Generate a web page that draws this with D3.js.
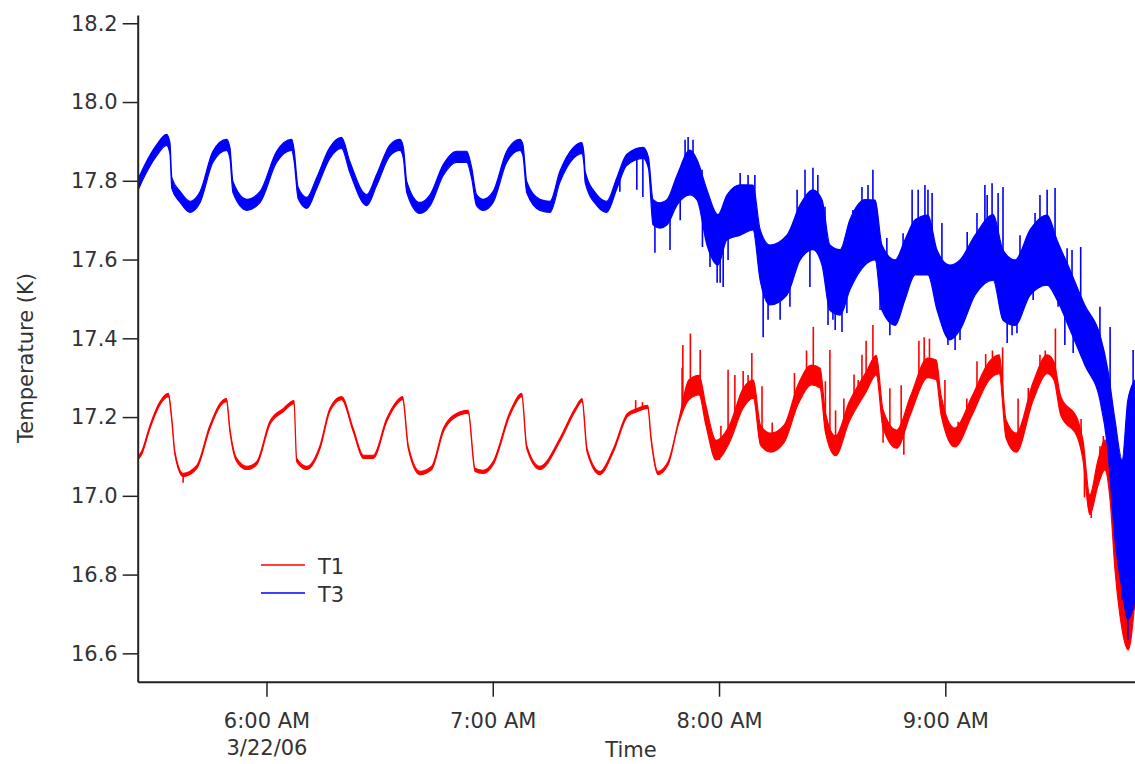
<!DOCTYPE html>
<html>
<head>
<meta charset="utf-8">
<script src="https://cdn.jsdelivr.net/npm/d3@7"></script>
<style>
  html, body { margin: 0; padding: 0; background: #fff; }
  svg { display: block; }
  text { font-family: "DejaVu Sans", Verdana, sans-serif; fill: #333; }
</style>
</head>
<body>
<svg id="chart" width="1135" height="764"></svg>
<script>
// ---- data: time in minutes after 5:00 AM, 3/22/06; temperature in K ----
const yTicks = [16.6, 16.8, 17.0, 17.2, 17.4, 17.6, 17.8, 18.0, 18.2];
const xTickMinutes = [60, 120, 180, 240];
const seriesNames = ["T1", "T3"];

// T3: middle of the recorded noise band, and half-width of the band
const t3Time = [25.9,27.8,30.9,33.5,34.4,34.9,37.1,39.7,42.4,45.8,49.4,50.3,51.1,54.8,58.3,62.7,66.7,67.3,68.4,70.7,73.3,76.8,79.9,82.1,86.6,89.2,92.8,95.4,96.3,97.2,100.7,103.4,106.9,110.4,113.1,114.4,115.7,117.5,120.1,123.7,127.2,128.0,129.0,132.5,135.2,137.8,141.4,143.6,144.2,144.5,147.6,150.2,152.9,155.5,159.9,161.3,
  162.5,164.4,166.2,168.9,172.3,174.2,176.8,179.7,182.1,185.6,189.0,190.9,193.5,198.0,201.5,204.9,207.3,209.4,212.1,214.7,218.7,221.4,223.2,226.7,229.3,232.0,235.4,237.8,241.2,243.9,247.9,252.7,255.3,258.5,262.5,267.0,269.6,273.1,277.0,281.0,283.1,285.0,286.9,288.4,290.3];
const t3Mid = [17.789,17.828,17.878,17.904,17.883,17.794,17.759,17.734,17.759,17.861,17.891,17.871,17.784,17.739,17.759,17.861,17.891,17.866,17.769,17.744,17.794,17.871,17.896,17.835,17.751,17.802,17.878,17.891,17.871,17.784,17.731,17.751,17.828,17.861,17.861,17.820,17.751,17.739,17.759,17.861,17.891,17.878,17.784,17.739,17.734,17.810,17.871,17.883,17.853,17.810,17.751,17.734,17.794,17.853,17.871,17.845,
  17.720,17.712,17.720,17.777,17.821,17.802,17.707,17.650,17.707,17.726,17.732,17.612,17.561,17.586,17.669,17.701,17.669,17.554,17.542,17.612,17.669,17.675,17.554,17.516,17.574,17.631,17.637,17.548,17.491,17.510,17.586,17.631,17.535,17.516,17.593,17.624,17.574,17.497,17.408,17.326,17.218,17.040,16.926,16.964,17.015];
const t3Spread = [0.014,0.014,0.014,0.014,0.014,0.014,0.014,0.014,0.014,0.014,0.014,0.014,0.014,0.014,0.014,0.014,0.014,0.014,0.014,0.014,0.014,0.014,0.014,0.014,0.014,0.014,0.014,0.014,0.014,0.014,0.014,0.014,0.014,0.014,0.014,0.014,0.014,0.014,0.014,0.014,0.014,0.014,0.014,0.014,0.014,0.014,0.014,0.014,0.014,0.014,0.014,0.014,0.014,0.014,0.014,0.014,
  0.032,0.032,0.032,0.038,0.057,0.051,0.070,0.064,0.057,0.064,0.057,0.064,0.076,0.076,0.070,0.076,0.083,0.083,0.083,0.089,0.083,0.076,0.083,0.083,0.076,0.070,0.076,0.076,0.095,0.089,0.076,0.083,0.089,0.083,0.083,0.089,0.076,0.076,0.076,0.083,0.102,0.152,0.165,0.279,0.279];
// T3: isolated noise spikes (time, tip value)
const t3SpikeTime = [153.7,158.2,159.8,163.0,167.0,169.7,171.0,171.8,173.1,175.5,175.6,177.6,179.5,180.3,181.1,182.4,183.7,185.6,187.7,189.5,191.7,193.0,196.2,198.8,200.7,202.8,204.1,204.9,206.2,208.1,208.9,210.2,210.8,212.6,213.9,215.5,217.9,219.5,220.8,222.7,224.5,225.3,227.2,228.8,231.2,232.8,234.6,235.4,236.5,239.1,239.9,240.7,242.6,243.9,245.8,248.4,250.5,251.1,252.4,254.0,255.3,256.4,257.7,259.0,259.8,263.3,263.8,265.1,267.0,269.1,269.9,271.7,272.3,273.6,273.9,275.7,275.9,277.0,277.6,279.7,281.0,283.7,286.9,288.4,289.8,289.9];
const t3SpikeTip = [17.772,17.777,17.759,17.617,17.624,17.700,17.904,17.911,17.904,17.828,17.632,17.581,17.541,17.541,17.530,17.599,17.777,17.820,17.815,17.815,17.403,17.447,17.447,17.480,17.777,17.828,17.530,17.833,17.815,17.734,17.434,17.447,17.421,17.416,17.464,17.726,17.784,17.789,17.828,17.472,17.655,17.408,17.439,17.667,17.777,17.777,17.789,17.777,17.769,17.693,17.413,17.383,17.370,17.396,17.670,17.718,17.789,17.764,17.794,17.769,17.784,17.388,17.408,17.413,17.662,17.497,17.718,17.764,17.777,17.782,17.480,17.383,17.629,17.624,17.363,17.370,17.632,17.353,17.345,17.294,17.480,17.429,16.735,16.634,17.370,16.710];

// T1
const t1Time = [25.9,26.9,29.1,31.8,34.0,34.9,35.7,37.9,41.5,45.0,47.7,49.4,50.3,52.1,54.8,57.4,60.9,64.5,67.3,68.0,70.7,74.2,76.8,79.9,83.0,85.7,88.3,91.9,94.5,96.1,97.6,100.7,103.8,106.9,109.5,113.5,115.3,117.5,120.1,124.6,127.7,129.0,132.5,137.8,141.8,143.7,145.0,148.4,152.0,155.7,158.4,161.1,162.0,163.8,166.5,169.3,
  172.0,174.7,176.5,179.2,182.8,186.4,189.1,191.0,193.7,197.3,200.9,204.5,206.8,208.2,210.9,214.5,219.0,221.7,223.5,227.1,230.8,235.3,237.6,238.9,242.5,247.1,251.6,254.3,256.1,258.8,263.3,267.0,268.8,270.6,275.1,276.5,278.3,280.5,282.3,283.7,285.0,286.3,288.5,290.3];
const t1Mid = [17.096,17.109,17.175,17.236,17.256,17.193,17.109,17.053,17.073,17.175,17.231,17.243,17.167,17.091,17.071,17.083,17.185,17.218,17.238,17.091,17.071,17.124,17.218,17.248,17.167,17.099,17.099,17.193,17.236,17.248,17.124,17.058,17.071,17.167,17.200,17.213,17.066,17.061,17.083,17.210,17.256,17.124,17.071,17.142,17.218,17.243,17.116,17.058,17.116,17.205,17.218,17.226,17.144,17.058,17.083,17.188,
  17.269,17.281,17.205,17.116,17.158,17.248,17.271,17.154,17.135,17.158,17.256,17.307,17.299,17.187,17.127,17.213,17.289,17.332,17.195,17.144,17.231,17.325,17.320,17.229,17.148,17.229,17.317,17.334,17.170,17.135,17.266,17.334,17.317,17.229,17.170,17.116,16.977,17.059,17.104,17.027,16.875,16.767,16.723,16.862];
const t1Spread = [0.004,0.004,0.004,0.004,0.004,0.004,0.004,0.004,0.004,0.004,0.004,0.004,0.004,0.004,0.004,0.004,0.004,0.004,0.004,0.004,0.004,0.004,0.004,0.004,0.004,0.004,0.004,0.004,0.004,0.004,0.004,0.004,0.004,0.004,0.004,0.004,0.004,0.004,0.004,0.004,0.004,0.004,0.004,0.004,0.004,0.004,0.004,0.004,0.004,0.004,0.004,0.004,0.004,0.004,0.004,0.004,
  0.025,0.025,0.025,0.025,0.022,0.025,0.023,0.025,0.024,0.022,0.025,0.025,0.025,0.025,0.025,0.025,0.025,0.025,0.023,0.023,0.023,0.025,0.025,0.024,0.024,0.024,0.023,0.024,0.023,0.024,0.023,0.024,0.023,0.024,0.023,0.025,0.025,0.032,0.038,0.038,0.064,0.070,0.114,0.127];
const t1SpikeTime = [37.9,157.9,159.7,170.2,170.4,172.4,175.0,180.1,180.5,182.4,184.2,186.4,187.7,188.7,191.4,194.1,200.0,203.2,205.0,208.2,209.4,210.9,213.1,215.8,216.9,217.9,219.0,220.8,223.5,225.3,228.3,229.0,233.0,234.4,235.8,239.9,243.4,245.7,248.4,250.7,252.5,255.2,259.3,262.0,265.1,266.5,269.2,271.5,273.8,276.0,276.9,278.7,281.0,281.9];
const t1SpikeTip = [17.033,17.243,17.238,17.325,17.383,17.412,17.370,17.091,17.178,17.320,17.307,17.317,17.307,17.363,17.278,17.186,17.312,17.369,17.429,17.291,17.370,17.217,17.247,17.308,17.294,17.358,17.394,17.434,17.135,17.273,17.281,17.104,17.394,17.403,17.399,17.294,17.188,17.247,17.342,17.360,17.369,17.377,17.247,17.274,17.358,17.369,17.425,17.230,17.213,17.195,16.996,16.944,17.126,17.152];

const colorT1 = "#ff0000";
const colorT3 = "#0000ff";

// ---- helpers ----
const base = new Date(2006, 2, 22, 5, 0, 0);
const toDate = m => new Date(base.getTime() + m * 60000);

const plotLeft = 137.7, plotRight = 1135, plotTop = 15, plotBottom = 681.7;
const x = d3.scaleTime().domain([toDate(25.85), toDate(290.3)]).range([plotLeft, plotRight]);
const y = d3.scaleLinear().domain([16.528, 18.221]).range([plotBottom, plotTop]);

const svg = d3.select("#chart");

svg.append("defs").append("clipPath").attr("id", "clip")
  .append("rect").attr("x", plotLeft + 1).attr("y", plotTop - 5)
  .attr("width", plotRight - plotLeft).attr("height", plotBottom - plotTop + 4);

const plot = svg.append("g").attr("clip-path", "url(#clip)");

function drawSeries(times, mid, spread, spT, spTip, color) {
  const rows = times.map((t, i) => ({ t: toDate(t), lo: mid[i] - spread[i], hi: mid[i] + spread[i] }));
  const area = d3.area().curve(d3.curveMonotoneX)
    .x(d => x(d.t)).y0(d => y(d.lo)).y1(d => y(d.hi));
  plot.append("path").datum(rows).attr("d", area)
    .attr("fill", color).attr("stroke", color).attr("stroke-width", 1.2)
    .attr("stroke-linejoin", "round");
  // spikes start from the middle of the band at that time
  const midAt = d3.scaleLinear().domain(times).range(mid);
  const spikes = spT.map((t, i) => ({ t: toDate(t), a: midAt(t), b: spTip[i] }));
  plot.append("g").selectAll("line").data(spikes).join("line")
    .attr("x1", d => x(d.t)).attr("x2", d => x(d.t))
    .attr("y1", d => y(d.a)).attr("y2", d => y(d.b))
    .attr("stroke", color).attr("stroke-width", 1.6);
}

drawSeries(t1Time, t1Mid, t1Spread, t1SpikeTime, t1SpikeTip, colorT1);
drawSeries(t3Time, t3Mid, t3Spread, t3SpikeTime, t3SpikeTip, colorT3);

// ---- axes ----
const yAxis = d3.axisLeft(y).tickValues(yTicks).tickSize(15).tickSizeOuter(0)
  .tickPadding(5).tickFormat(d3.format(".1f"));
const gy = svg.append("g").attr("transform", `translate(${plotLeft},0)`).call(yAxis);
gy.select(".domain").attr("stroke", "#222").attr("stroke-width", 2);
gy.selectAll(".tick line").attr("stroke", "#222").attr("stroke-width", 1.5);
gy.selectAll(".tick text").style("font-size", "21px").attr("fill", "#333");

const xTickDates = xTickMinutes.map(toDate);
const fmtTime = d3.timeFormat("%-I:%M %p");
const fmtDate = d => `${d.getMonth() + 1}/${d.getDate()}/${d3.timeFormat("%y")(d)}`;
const xAxis = d3.axisBottom(x).tickValues(xTickDates).tickSize(15).tickSizeOuter(0).tickFormat("");
const gx = svg.append("g").attr("transform", `translate(0,${plotBottom})`).call(xAxis);
gx.select(".domain").attr("stroke", "#222").attr("stroke-width", 2);
gx.selectAll(".tick line").attr("stroke", "#222").attr("stroke-width", 1.5);
gx.selectAll(".tick").each(function (d, i) {
  const g = d3.select(this);
  g.append("text").attr("y", 46.6).attr("text-anchor", "middle")
    .style("font-size", "21px").attr("fill", "#333").text(fmtTime(d));
  if (i === 0) {
    g.append("text").attr("y", 73.3).attr("text-anchor", "middle")
      .style("font-size", "21px").attr("fill", "#333").text(fmtDate(d));
  }
});

// axis titles
svg.append("text").attr("x", 631).attr("y", 757).attr("text-anchor", "middle")
  .style("font-size", "21px").text("Time");
svg.append("text").attr("transform", "translate(33,358) rotate(-90)")
  .attr("text-anchor", "middle").style("font-size", "21px").text("Temperature (K)");

// legend
const legend = svg.append("g");
const legendColors = [colorT1, colorT3];
seriesNames.forEach((name, i) => {
  const ly = 565 + i * 28;
  legend.append("line").attr("x1", 261).attr("x2", 305).attr("y1", ly).attr("y2", ly)
    .attr("stroke", legendColors[i]).attr("stroke-width", 1.5);
  legend.append("text").attr("x", 318).attr("y", ly + 9).style("font-size", "21px").text(name);
});
</script>
</body>
</html>
